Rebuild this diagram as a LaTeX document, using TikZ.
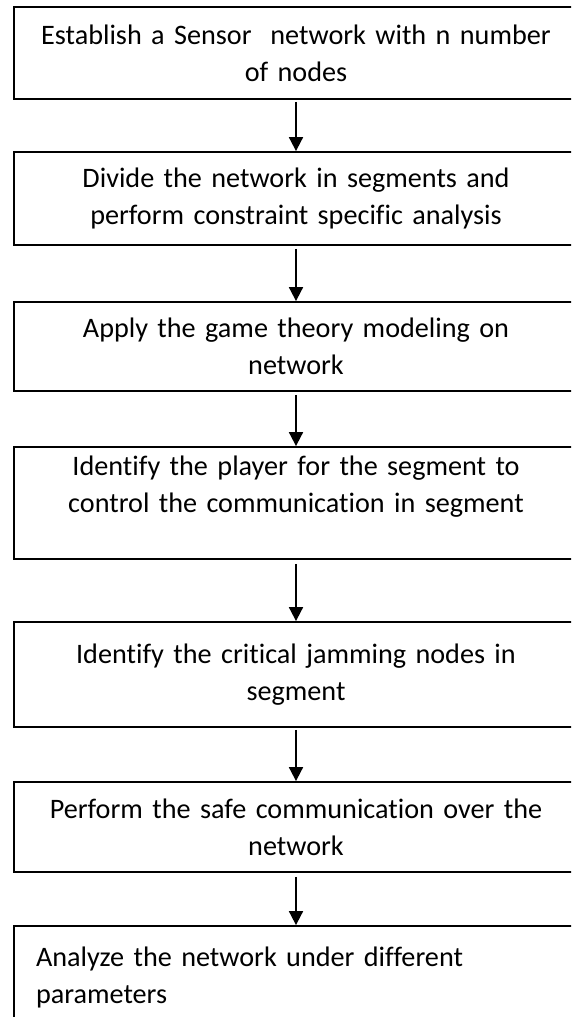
\documentclass[tikz,border=0pt]{standalone}
\usepackage{fontspec}
\setmainfont[Ligatures=NoCommon]{Carlito}
\usetikzlibrary{arrows.meta}
\begin{document}
\begin{tikzpicture}[x=1pt,y=-1pt,
  stepbox/.style={draw=black, line width=1.8pt, minimum width=564pt, inner sep=0pt,
    text width=545pt, align=center, font=\fontsize{28.2}{37}\selectfont},
  flow/.style={line width=1.8pt, -{Triangle[width=14pt,length=14pt]}}]
\useasboundingbox (0,0) rectangle (571,1017);
\clip (0,0) rectangle (571,1017);
\node[stepbox, minimum height=92pt] (b1) at (296,53)
  {Establish a Sensor\ \ network with n number\\of nodes};
\node[stepbox, minimum height=93pt] (b2) at (296,198.5)
  {Divide the network in segments and\\perform constraint specific analysis};
\node[stepbox, minimum height=89pt] (b3) at (296,346.5)
  {Apply the game theory modeling on\\network};
\node[stepbox, minimum height=112pt] (b4) at (296,503)
  {Identify the player for the segment to\\control the communication in segment\\\mbox{}};
\node[stepbox, minimum height=105pt] (b5) at (296,674.5)
  {Identify the critical jamming nodes in\\segment};
\node[stepbox, minimum height=90pt] (b6) at (296,827)
  {Perform the safe communication over the\\network};
\node[stepbox, minimum height=172pt, align=left, text width=520pt] (b7) at (296,1012)
  {Analyze the network under different\\parameters\\\mbox{}\\\mbox{}};
\draw[flow] (b1.south) ++(0,2) -- (b2.north);
\draw[flow] (b2.south) ++(0,3) -- (b3.north);
\draw[flow] (b3.south) ++(0,3) -- (b4.north);
\draw[flow] (b4.south) ++(0,4) -- (b5.north);
\draw[flow] (b5.south) ++(0,2) -- (b6.north);
\draw[flow] (b6.south) ++(0,4) -- (b7.north);
\end{tikzpicture}
\end{document}
